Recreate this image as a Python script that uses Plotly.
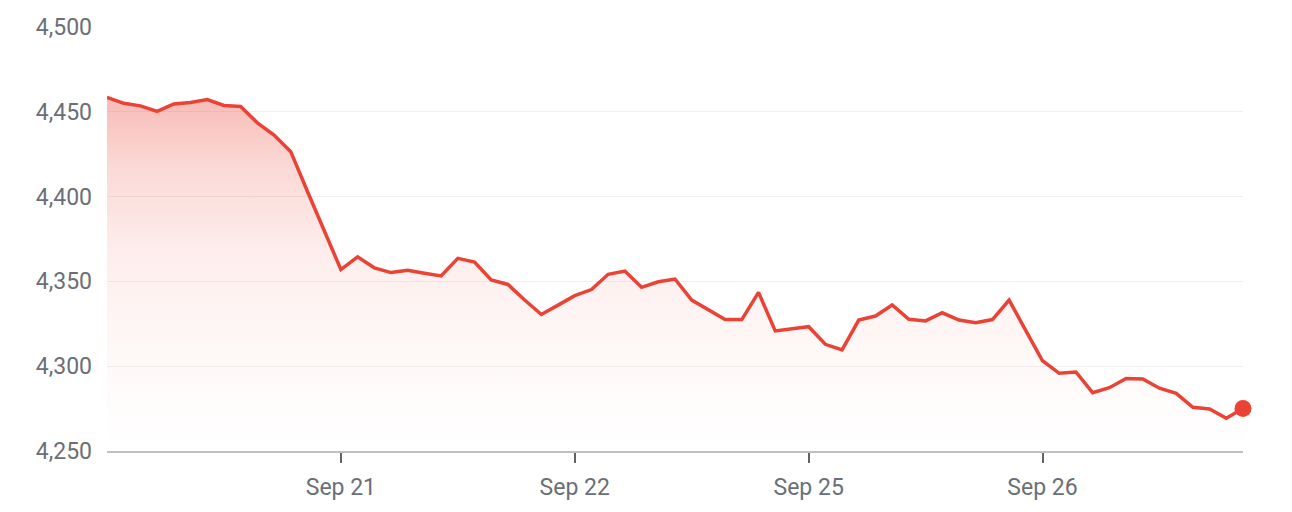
import plotly.graph_objects as go

# Price series (one point per interval)
values = [
    4458.5, 4455.0, 4453.5, 4450.2, 4454.6, 4455.5, 4457.2, 4453.7, 4453.1, 4443.5,
    4436.3, 4426.5, 4403.0, 4380.0, 4357.0, 4364.5, 4358.0, 4355.2, 4356.6, 4354.8,
    4353.2, 4363.6, 4361.4, 4350.8, 4348.2, 4339.0, 4330.5, 4336.0, 4341.6, 4345.2,
    4354.2, 4356.1, 4346.5, 4349.8, 4351.4, 4339.0, 4333.5, 4327.5, 4327.5, 4343.5,
    4320.8, 4322.0, 4323.3, 4312.9, 4309.6, 4327.2, 4329.6, 4336.1, 4327.7, 4326.7,
    4331.5, 4327.2, 4325.6, 4327.5, 4339.0, 4321.0, 4303.2, 4295.8, 4296.6, 4284.4,
    4287.3, 4292.8, 4292.5, 4287.0, 4284.0, 4275.8, 4274.8, 4269.3, 4275.0,
]
x_index = list(range(len(values)))

tick_index = [14, 28, 42, 56]
tick_labels = ["Sep 21", "Sep 22", "Sep 25", "Sep 26"]

y_ticks = [4250, 4300, 4350, 4400, 4450, 4500]
y_range = [4250, 4500]

RED = "#ea4335"
FONT = "Roboto"
TEXT = "#6b6f75"

fig = go.Figure()

fig.add_trace(go.Scatter(
    x=x_index, y=values, mode="lines",
    line=dict(color=RED, width=3.5),
    fill="tozeroy",
    fillgradient=dict(
        type="vertical",
        start=y_range[0], stop=max(values),
        colorscale=[
            [0.0, "rgba(234,67,53,0.0)"],
            [0.3, "rgba(234,67,53,0.04)"],
            [0.55, "rgba(234,67,53,0.09)"],
            [0.8, "rgba(234,67,53,0.2)"],
            [1.0, "rgba(234,67,53,0.36)"],
        ],
    ),
    hoverinfo="skip",
    showlegend=False,
))

fig.add_trace(go.Scatter(
    x=[x_index[-1]], y=[values[-1]], mode="markers",
    marker=dict(color=RED, size=17),
    cliponaxis=False,
    hoverinfo="skip",
    showlegend=False,
))

fig.update_layout(
    width=1292, height=512,
    margin=dict(l=99, r=57, t=19, b=69),
    paper_bgcolor="white",
    plot_bgcolor="white",
    font=dict(family=FONT, size=23, color=TEXT),
    xaxis=dict(
        range=[0, len(values) - 1],
        automargin=False,
        tickmode="array", tickvals=tick_index, ticktext=tick_labels,
        showgrid=False, zeroline=False,
        showline=True, linecolor="#bdc1c6", linewidth=2,
        ticks="outside", ticklen=10, tickwidth=2, tickcolor="#5f6368",
        ticklabelstandoff=4,
        tickfont=dict(family=FONT, size=23, color=TEXT),
    ),
    yaxis=dict(
        range=y_range,
        automargin=False,
        tickmode="array", tickvals=y_ticks,
        tickformat=",d",
        showgrid=True, gridcolor="#f0f0f0", gridwidth=1,
        zeroline=False, showline=False,
        ticks="", ticklabelstandoff=14,
        tickfont=dict(family=FONT, size=23, color=TEXT),
    ),
)

fig.write_html("out.html")
